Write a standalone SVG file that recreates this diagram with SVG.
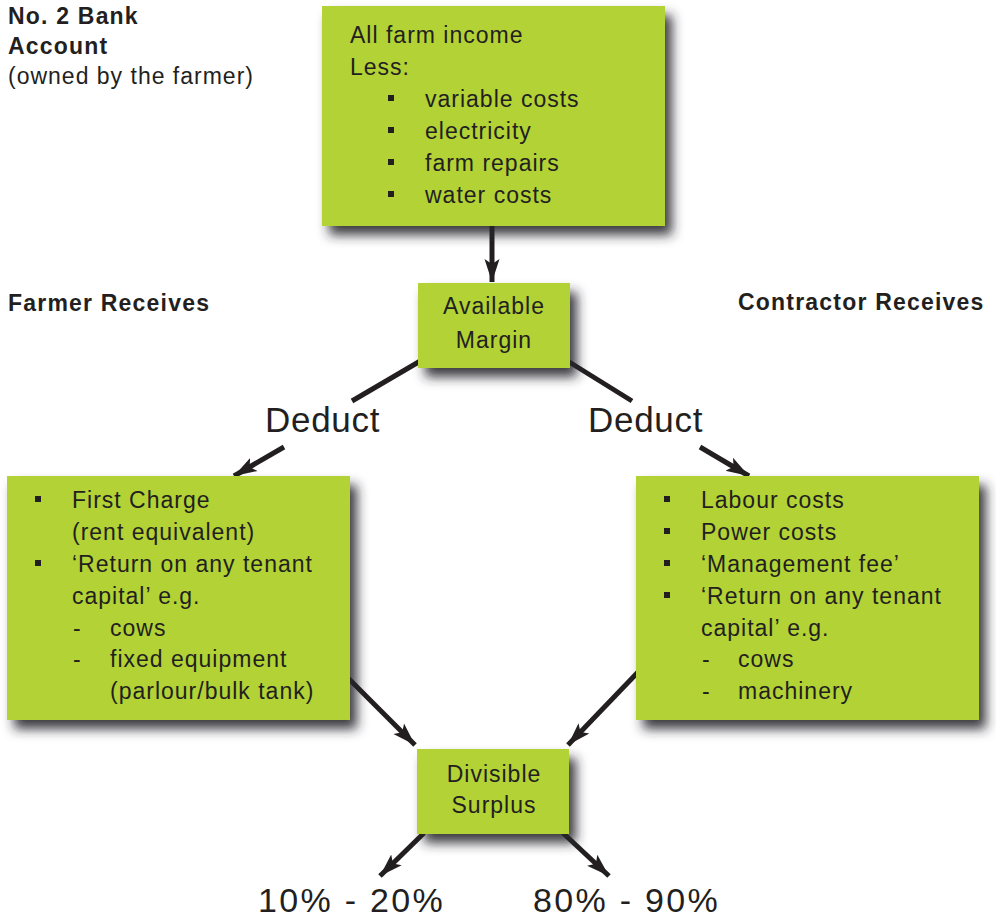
<svg xmlns="http://www.w3.org/2000/svg" width="996" height="920" viewBox="0 0 996 920">
<style>
text{font-family:"Liberation Sans",Arial,sans-serif;fill:#231f20}
.bx{font-size:23px;letter-spacing:1px}
.lb{font-size:23px;font-weight:bold;letter-spacing:1.2px}
.big{font-size:35px;letter-spacing:0.7px}
.pct{font-size:34px;letter-spacing:2.3px}
.box{fill:#b2d235;filter:url(#sh)}
.bul{fill:#231f20}
.ln{stroke:#231f20;stroke-width:5;fill:none}
.ar{stroke:#231f20;stroke-width:5;fill:none;marker-end:url(#ah)}
</style>
<defs>
<filter id="sh" x="-20%" y="-20%" width="150%" height="150%">
<feGaussianBlur in="SourceAlpha" stdDeviation="6"/>
<feOffset dx="7" dy="9" result="b"/>
<feFlood flood-color="#26262c" flood-opacity="0.9"/>
<feComposite in2="b" operator="in"/>
<feMerge><feMergeNode/><feMergeNode in="SourceGraphic"/></feMerge>
</filter>
<marker id="ah" markerUnits="userSpaceOnUse" markerWidth="28" markerHeight="18" refX="23" refY="9" orient="auto">
<path d="M0,1.5 L23,9 L0,16.5 L5,9 z" fill="#231f20"/>
</marker>
</defs>

<g id="labels">
<text class="lb" x="8" y="24">No. 2 Bank</text>
<text class="lb" x="8" y="54">Account</text>
<text class="bx" x="8" y="84">(owned by the farmer)</text>
<text class="lb" x="8" y="311">Farmer Receives</text>
<text class="lb" x="738" y="310">Contractor Receives</text>
<text class="big" x="265" y="432">Deduct</text>
<text class="big" x="588" y="432">Deduct</text>
<text class="pct" x="258" y="912">10% - 20%</text>
<text class="pct" x="533" y="912">80% - 90%</text>
</g>

<g id="connectors">
<line class="ar" x1="492" y1="226" x2="492" y2="282"/>
<line class="ln" x1="422" y1="360" x2="352" y2="401"/>
<line class="ln" x1="566" y1="360" x2="632" y2="401"/>
<line class="ar" x1="284" y1="447" x2="234" y2="476"/>
<line class="ar" x1="700" y1="447" x2="749" y2="476"/>
<line class="ar" x1="345" y1="675" x2="415" y2="745"/>
<line class="ar" x1="640" y1="670" x2="568" y2="745"/>
<line class="ar" x1="424" y1="833" x2="380" y2="876"/>
<line class="ar" x1="563" y1="833" x2="609" y2="876"/>
</g>

<g id="farm-income">
<rect class="box" x="322" y="6" width="343" height="220"/>
<text class="bx" x="350" y="43">All farm income</text>
<text class="bx" x="350" y="75">Less:</text>
<rect class="bul" x="388" y="95" width="6" height="6"/>
<text class="bx" x="425" y="107">variable costs</text>
<rect class="bul" x="388" y="127" width="6" height="6"/>
<text class="bx" x="425" y="139">electricity</text>
<rect class="bul" x="388" y="159" width="6" height="6"/>
<text class="bx" x="425" y="171">farm repairs</text>
<rect class="bul" x="388" y="191" width="6" height="6"/>
<text class="bx" x="425" y="203">water costs</text>
</g>

<g id="available-margin">
<rect class="box" x="418" y="283" width="152" height="85"/>
<text class="bx" x="494" y="314" text-anchor="middle">Available</text>
<text class="bx" x="494" y="348" text-anchor="middle">Margin</text>
</g>

<g id="farmer-deductions">
<rect class="box" x="7" y="476" width="343" height="244"/>
<rect class="bul" x="35" y="496" width="6" height="6"/>
<text class="bx" x="72" y="508">First Charge</text>
<text class="bx" x="72" y="540">(rent equivalent)</text>
<rect class="bul" x="35" y="560" width="6" height="6"/>
<text class="bx" x="72" y="572">‘Return on any tenant</text>
<text class="bx" x="72" y="604">capital’ e.g.</text>
<text class="bx" x="73" y="636">-</text>
<text class="bx" x="110" y="636">cows</text>
<text class="bx" x="73" y="667">-</text>
<text class="bx" x="110" y="667">fixed equipment</text>
<text class="bx" x="110" y="699">(parlour/bulk tank)</text>
</g>

<g id="contractor-deductions">
<rect class="box" x="636" y="476" width="343" height="244"/>
<rect class="bul" x="664" y="496" width="6" height="6"/>
<text class="bx" x="701" y="508">Labour costs</text>
<rect class="bul" x="664" y="528" width="6" height="6"/>
<text class="bx" x="701" y="540">Power costs</text>
<rect class="bul" x="664" y="560" width="6" height="6"/>
<text class="bx" x="701" y="572">‘Management fee’</text>
<rect class="bul" x="664" y="592" width="6" height="6"/>
<text class="bx" x="701" y="604">‘Return on any tenant</text>
<text class="bx" x="701" y="636">capital’ e.g.</text>
<text class="bx" x="702" y="667">-</text>
<text class="bx" x="738" y="667">cows</text>
<text class="bx" x="702" y="699">-</text>
<text class="bx" x="738" y="699">machinery</text>
</g>

<g id="divisible-surplus">
<rect class="box" x="417" y="749" width="152" height="85"/>
<text class="bx" x="494" y="782" text-anchor="middle">Divisible</text>
<text class="bx" x="494" y="813" text-anchor="middle">Surplus</text>
</g>
</svg>
